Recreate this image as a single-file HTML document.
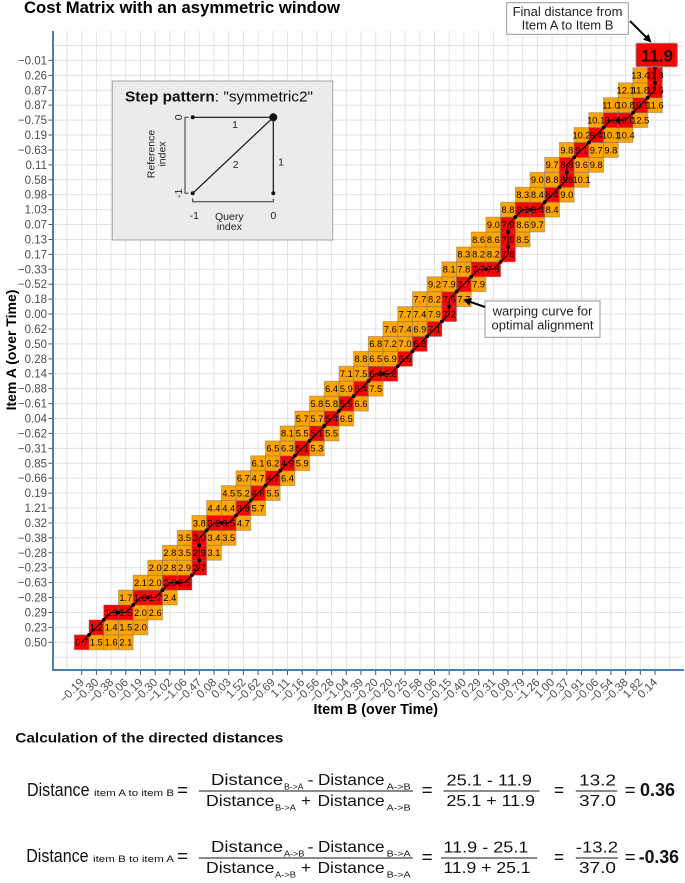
<!DOCTYPE html>
<html><head><meta charset="utf-8">
<style>
html,body{margin:0;padding:0;background:#fff}
svg{display:block}
text{font-family:"Liberation Sans",Arial,sans-serif}
.yl text{font-size:11.5px;fill:#4d4d4d;text-anchor:end}
.xl text{font-size:11.5px;fill:#4d4d4d;text-anchor:end}
.c text{font-size:9.3px;fill:#000;text-anchor:middle}
</style></head>
<body>
<svg width="685" height="883" viewBox="0 0 685 883" xmlns="http://www.w3.org/2000/svg">
<defs>
<pattern id="grid" x="59.65" y="649.76" width="14.7" height="14.92" patternUnits="userSpaceOnUse">
<path d="M7.35 0V14.92M0 7.46H14.7" stroke="#e2e2e2" stroke-width="1" fill="none"/>
</pattern>
<rect id="O" x="-7.35" y="-7.46" width="14.7" height="14.92" fill="#FFA500" stroke="rgba(110,110,110,0.45)" stroke-width="1"/>
<rect id="R" x="-7.35" y="-7.46" width="14.7" height="14.92" fill="#FF0000" stroke="rgba(110,110,110,0.45)" stroke-width="1"/>
</defs>
<rect width="685" height="883" fill="#fff"/>
<text x="24" y="13" font-size="16.5" font-weight="bold" textLength="316" lengthAdjust="spacingAndGlyphs">Cost Matrix with an asymmetric window</text>

<rect x="53" y="31" width="630" height="639" fill="url(#grid)"/>

<path stroke="#555" stroke-width="1" d="M48.5 60.42H53M48.5 75.34H53M48.5 90.26H53M48.5 105.18H53M48.5 120.1H53M48.5 135.02H53M48.5 149.94H53M48.5 164.86H53M48.5 179.78H53M48.5 194.7H53M48.5 209.62H53M48.5 224.54H53M48.5 239.46H53M48.5 254.38H53M48.5 269.3H53M48.5 284.22H53M48.5 299.14H53M48.5 314.06H53M48.5 328.98H53M48.5 343.9H53M48.5 358.82H53M48.5 373.74H53M48.5 388.66H53M48.5 403.58H53M48.5 418.5H53M48.5 433.42H53M48.5 448.34H53M48.5 463.26H53M48.5 478.18H53M48.5 493.1H53M48.5 508.02H53M48.5 522.94H53M48.5 537.86H53M48.5 552.78H53M48.5 567.7H53M48.5 582.62H53M48.5 597.54H53M48.5 612.46H53M48.5 627.38H53M48.5 642.3H53"/>
<path stroke="#555" stroke-width="1" d="M81.7 670V675M96.4 670V675M111.1 670V675M125.8 670V675M140.5 670V675M155.2 670V675M169.9 670V675M184.6 670V675M199.3 670V675M214 670V675M228.7 670V675M243.4 670V675M258.1 670V675M272.8 670V675M287.5 670V675M302.2 670V675M316.9 670V675M331.6 670V675M346.3 670V675M361 670V675M375.7 670V675M390.4 670V675M405.1 670V675M419.8 670V675M434.5 670V675M449.2 670V675M463.9 670V675M478.6 670V675M493.3 670V675M508 670V675M522.7 670V675M537.4 670V675M552.1 670V675M566.8 670V675M581.5 670V675M596.2 670V675M610.9 670V675M625.6 670V675M640.3 670V675M655 670V675"/>

<line x1="53" y1="31" x2="53" y2="671" stroke="#4a7fb0" stroke-width="2"/>
<line x1="52" y1="670" x2="684" y2="670" stroke="#4a7fb0" stroke-width="2"/>

<g class="yl">
<text x="47" y="64.4">−0.01</text><text x="47" y="79.34">0.26</text><text x="47" y="94.26">0.87</text><text x="47" y="109.18">0.87</text><text x="47" y="124.1">−0.75</text><text x="47" y="139.02">0.19</text><text x="47" y="153.94">−0.63</text><text x="47" y="168.86">0.11</text><text x="47" y="183.78">0.58</text><text x="47" y="198.7">0.98</text><text x="47" y="213.62">1.03</text><text x="47" y="228.54">0.07</text><text x="47" y="243.46">0.13</text><text x="47" y="258.38">0.17</text><text x="47" y="273.3">−0.33</text><text x="47" y="288.22">−0.52</text><text x="47" y="303.14">0.18</text><text x="47" y="318.06">0.00</text><text x="47" y="332.98">0.62</text><text x="47" y="347.9">0.50</text><text x="47" y="362.82">0.28</text><text x="47" y="377.74">0.14</text><text x="47" y="392.66">−0.88</text><text x="47" y="407.58">−0.61</text><text x="47" y="422.5">0.04</text><text x="47" y="437.42">−0.62</text><text x="47" y="452.34">−0.31</text><text x="47" y="467.26">0.85</text><text x="47" y="482.18">−0.66</text><text x="47" y="497.1">0.19</text><text x="47" y="512.02">1.21</text><text x="47" y="526.94">0.32</text><text x="47" y="541.86">−0.38</text><text x="47" y="556.78">−0.28</text><text x="47" y="571.7">−0.23</text><text x="47" y="586.62">−0.63</text><text x="47" y="601.54">−0.28</text><text x="47" y="616.46">0.29</text><text x="47" y="631.38">0.23</text><text x="47" y="646.3">0.50</text>
</g>

<g class="xl">
<text transform="translate(84.7,683) rotate(-45)">−0.19</text>
<text transform="translate(99.4,683) rotate(-45)">−0.30</text>
<text transform="translate(114.1,683) rotate(-45)">−0.38</text>
<text transform="translate(128.8,683) rotate(-45)">0.06</text>
<text transform="translate(143.5,683) rotate(-45)">−0.19</text>
<text transform="translate(158.2,683) rotate(-45)">−0.30</text>
<text transform="translate(172.9,683) rotate(-45)">−1.02</text>
<text transform="translate(187.6,683) rotate(-45)">−1.06</text>
<text transform="translate(202.3,683) rotate(-45)">−0.47</text>
<text transform="translate(217,683) rotate(-45)">0.08</text>
<text transform="translate(231.7,683) rotate(-45)">0.03</text>
<text transform="translate(246.4,683) rotate(-45)">1.52</text>
<text transform="translate(261.1,683) rotate(-45)">−0.62</text>
<text transform="translate(275.8,683) rotate(-45)">−0.69</text>
<text transform="translate(290.5,683) rotate(-45)">1.11</text>
<text transform="translate(305.2,683) rotate(-45)">−0.16</text>
<text transform="translate(319.9,683) rotate(-45)">−0.56</text>
<text transform="translate(334.6,683) rotate(-45)">−0.28</text>
<text transform="translate(349.3,683) rotate(-45)">−1.04</text>
<text transform="translate(364,683) rotate(-45)">−0.39</text>
<text transform="translate(378.7,683) rotate(-45)">−0.20</text>
<text transform="translate(393.4,683) rotate(-45)">−0.20</text>
<text transform="translate(408.1,683) rotate(-45)">0.25</text>
<text transform="translate(422.8,683) rotate(-45)">0.58</text>
<text transform="translate(437.5,683) rotate(-45)">0.06</text>
<text transform="translate(452.2,683) rotate(-45)">−0.15</text>
<text transform="translate(466.9,683) rotate(-45)">−0.40</text>
<text transform="translate(481.6,683) rotate(-45)">0.29</text>
<text transform="translate(496.3,683) rotate(-45)">−0.31</text>
<text transform="translate(511,683) rotate(-45)">0.09</text>
<text transform="translate(525.7,683) rotate(-45)">−0.79</text>
<text transform="translate(540.4,683) rotate(-45)">−1.26</text>
<text transform="translate(555.1,683) rotate(-45)">1.00</text>
<text transform="translate(569.8,683) rotate(-45)">−0.37</text>
<text transform="translate(584.5,683) rotate(-45)">−0.91</text>
<text transform="translate(599.2,683) rotate(-45)">−0.06</text>
<text transform="translate(613.9,683) rotate(-45)">−0.54</text>
<text transform="translate(628.6,683) rotate(-45)">−0.38</text>
<text transform="translate(643.3,683) rotate(-45)">1.82</text>
<text transform="translate(658,683) rotate(-45)">0.14</text>
</g>

<text transform="translate(16,350) rotate(-90)" text-anchor="middle" font-size="14" font-weight="bold">Item A (over Time)</text>
<text x="375.8" y="714" text-anchor="middle" font-size="14.3" font-weight="bold">Item B (over Time)</text>

<g class="c">
<g transform="translate(0,642.3)"><use href="#R" x="81.7"/><text x="81.7" y="3.3">0.7</text><use href="#O" x="96.4"/><text x="96.4" y="3.3">1.5</text><use href="#O" x="111.1"/><text x="111.1" y="3.3">1.6</text><use href="#O" x="125.8"/><text x="125.8" y="3.3">2.1</text></g>
<g transform="translate(0,627.38)"><use href="#R" x="96.4"/><text x="96.4" y="3.3">1.2</text><use href="#O" x="111.1"/><text x="111.1" y="3.3">1.4</text><use href="#O" x="125.8"/><text x="125.8" y="3.3">1.5</text><use href="#O" x="140.5"/><text x="140.5" y="3.3">2.0</text></g>
<g transform="translate(0,612.46)"><use href="#R" x="111.1"/><text x="111.1" y="3.3">1.3</text><use href="#R" x="125.8"/><text x="125.8" y="3.3">1.5</text><use href="#O" x="140.5"/><text x="140.5" y="3.3">2.0</text><use href="#O" x="155.2"/><text x="155.2" y="3.3">2.6</text></g>
<g transform="translate(0,597.54)"><use href="#O" x="125.8"/><text x="125.8" y="3.3">1.7</text><use href="#R" x="140.5"/><text x="140.5" y="3.3">1.6</text><use href="#R" x="155.2"/><text x="155.2" y="3.3">1.7</text><use href="#O" x="169.9"/><text x="169.9" y="3.3">2.4</text></g>
<g transform="translate(0,582.62)"><use href="#O" x="140.5"/><text x="140.5" y="3.3">2.1</text><use href="#O" x="155.2"/><text x="155.2" y="3.3">2.0</text><use href="#R" x="169.9"/><text x="169.9" y="3.3">2.0</text><use href="#R" x="184.6"/><text x="184.6" y="3.3">2.5</text></g>
<g transform="translate(0,567.7)"><use href="#O" x="155.2"/><text x="155.2" y="3.3">2.0</text><use href="#O" x="169.9"/><text x="169.9" y="3.3">2.8</text><use href="#O" x="184.6"/><text x="184.6" y="3.3">2.9</text><use href="#R" x="199.3"/><text x="199.3" y="3.3">2.7</text></g>
<g transform="translate(0,552.78)"><use href="#O" x="169.9"/><text x="169.9" y="3.3">2.8</text><use href="#O" x="184.6"/><text x="184.6" y="3.3">3.5</text><use href="#R" x="199.3"/><text x="199.3" y="3.3">2.9</text><use href="#O" x="214"/><text x="214" y="3.3">3.1</text></g>
<g transform="translate(0,537.86)"><use href="#O" x="184.6"/><text x="184.6" y="3.3">3.5</text><use href="#R" x="199.3"/><text x="199.3" y="3.3">3.0</text><use href="#O" x="214"/><text x="214" y="3.3">3.4</text><use href="#O" x="228.7"/><text x="228.7" y="3.3">3.5</text></g>
<g transform="translate(0,522.94)"><use href="#O" x="199.3"/><text x="199.3" y="3.3">3.8</text><use href="#R" x="214"/><text x="214" y="3.3">3.2</text><use href="#R" x="228.7"/><text x="228.7" y="3.3">3.5</text><use href="#O" x="243.4"/><text x="243.4" y="3.3">4.7</text></g>
<g transform="translate(0,508.02)"><use href="#O" x="214"/><text x="214" y="3.3">4.4</text><use href="#O" x="228.7"/><text x="228.7" y="3.3">4.4</text><use href="#R" x="243.4"/><text x="243.4" y="3.3">3.8</text><use href="#O" x="258.1"/><text x="258.1" y="3.3">5.7</text></g>
<g transform="translate(0,493.1)"><use href="#O" x="228.7"/><text x="228.7" y="3.3">4.5</text><use href="#O" x="243.4"/><text x="243.4" y="3.3">5.2</text><use href="#R" x="258.1"/><text x="258.1" y="3.3">4.6</text><use href="#O" x="272.8"/><text x="272.8" y="3.3">5.5</text></g>
<g transform="translate(0,478.18)"><use href="#O" x="243.4"/><text x="243.4" y="3.3">6.7</text><use href="#O" x="258.1"/><text x="258.1" y="3.3">4.7</text><use href="#R" x="272.8"/><text x="272.8" y="3.3">4.7</text><use href="#O" x="287.5"/><text x="287.5" y="3.3">6.4</text></g>
<g transform="translate(0,463.26)"><use href="#O" x="258.1"/><text x="258.1" y="3.3">6.1</text><use href="#O" x="272.8"/><text x="272.8" y="3.3">6.2</text><use href="#R" x="287.5"/><text x="287.5" y="3.3">4.9</text><use href="#O" x="302.2"/><text x="302.2" y="3.3">5.9</text></g>
<g transform="translate(0,448.34)"><use href="#O" x="272.8"/><text x="272.8" y="3.3">6.5</text><use href="#O" x="287.5"/><text x="287.5" y="3.3">6.3</text><use href="#R" x="302.2"/><text x="302.2" y="3.3">5.1</text><use href="#O" x="316.9"/><text x="316.9" y="3.3">5.3</text></g>
<g transform="translate(0,433.42)"><use href="#O" x="287.5"/><text x="287.5" y="3.3">8.1</text><use href="#O" x="302.2"/><text x="302.2" y="3.3">5.5</text><use href="#R" x="316.9"/><text x="316.9" y="3.3">5.1</text><use href="#O" x="331.6"/><text x="331.6" y="3.3">5.5</text></g>
<g transform="translate(0,418.5)"><use href="#O" x="302.2"/><text x="302.2" y="3.3">5.7</text><use href="#O" x="316.9"/><text x="316.9" y="3.3">5.7</text><use href="#R" x="331.6"/><text x="331.6" y="3.3">5.4</text><use href="#O" x="346.3"/><text x="346.3" y="3.3">6.5</text></g>
<g transform="translate(0,403.58)"><use href="#O" x="316.9"/><text x="316.9" y="3.3">5.8</text><use href="#O" x="331.6"/><text x="331.6" y="3.3">5.8</text><use href="#R" x="346.3"/><text x="346.3" y="3.3">5.9</text><use href="#O" x="361"/><text x="361" y="3.3">6.6</text></g>
<g transform="translate(0,388.66)"><use href="#O" x="331.6"/><text x="331.6" y="3.3">6.4</text><use href="#O" x="346.3"/><text x="346.3" y="3.3">5.9</text><use href="#R" x="361"/><text x="361" y="3.3">6.4</text><use href="#O" x="375.7"/><text x="375.7" y="3.3">7.5</text></g>
<g transform="translate(0,373.74)"><use href="#O" x="346.3"/><text x="346.3" y="3.3">7.1</text><use href="#O" x="361"/><text x="361" y="3.3">7.5</text><use href="#R" x="375.7"/><text x="375.7" y="3.3">6.4</text><use href="#R" x="390.4"/><text x="390.4" y="3.3">6.8</text></g>
<g transform="translate(0,358.82)"><use href="#O" x="361"/><text x="361" y="3.3">8.8</text><use href="#O" x="375.7"/><text x="375.7" y="3.3">6.5</text><use href="#O" x="390.4"/><text x="390.4" y="3.3">6.9</text><use href="#R" x="405.1"/><text x="405.1" y="3.3">6.6</text></g>
<g transform="translate(0,343.9)"><use href="#O" x="375.7"/><text x="375.7" y="3.3">6.8</text><use href="#O" x="390.4"/><text x="390.4" y="3.3">7.2</text><use href="#O" x="405.1"/><text x="405.1" y="3.3">7.0</text><use href="#R" x="419.8"/><text x="419.8" y="3.3">6.8</text></g>
<g transform="translate(0,328.98)"><use href="#O" x="390.4"/><text x="390.4" y="3.3">7.6</text><use href="#O" x="405.1"/><text x="405.1" y="3.3">7.4</text><use href="#O" x="419.8"/><text x="419.8" y="3.3">6.9</text><use href="#R" x="434.5"/><text x="434.5" y="3.3">7.1</text></g>
<g transform="translate(0,314.06)"><use href="#O" x="405.1"/><text x="405.1" y="3.3">7.7</text><use href="#O" x="419.8"/><text x="419.8" y="3.3">7.4</text><use href="#O" x="434.5"/><text x="434.5" y="3.3">7.9</text><use href="#R" x="449.2"/><text x="449.2" y="3.3">7.2</text></g>
<g transform="translate(0,299.14)"><use href="#O" x="419.8"/><text x="419.8" y="3.3">7.7</text><use href="#O" x="434.5"/><text x="434.5" y="3.3">8.2</text><use href="#R" x="449.2"/><text x="449.2" y="3.3">7.6</text><use href="#O" x="463.9"/><text x="463.9" y="3.3">7.7</text></g>
<g transform="translate(0,284.22)"><use href="#O" x="434.5"/><text x="434.5" y="3.3">9.2</text><use href="#O" x="449.2"/><text x="449.2" y="3.3">7.9</text><use href="#R" x="463.9"/><text x="463.9" y="3.3">7.7</text><use href="#O" x="478.6"/><text x="478.6" y="3.3">7.9</text></g>
<g transform="translate(0,269.3)"><use href="#O" x="449.2"/><text x="449.2" y="3.3">8.1</text><use href="#O" x="463.9"/><text x="463.9" y="3.3">7.8</text><use href="#R" x="478.6"/><text x="478.6" y="3.3">7.7</text><use href="#R" x="493.3"/><text x="493.3" y="3.3">7.8</text></g>
<g transform="translate(0,254.38)"><use href="#O" x="463.9"/><text x="463.9" y="3.3">8.3</text><use href="#O" x="478.6"/><text x="478.6" y="3.3">8.2</text><use href="#O" x="493.3"/><text x="493.3" y="3.3">8.2</text><use href="#R" x="508"/><text x="508" y="3.3">7.8</text></g>
<g transform="translate(0,239.46)"><use href="#O" x="478.6"/><text x="478.6" y="3.3">8.6</text><use href="#O" x="493.3"/><text x="493.3" y="3.3">8.6</text><use href="#R" x="508"/><text x="508" y="3.3">7.9</text><use href="#O" x="522.7"/><text x="522.7" y="3.3">8.5</text></g>
<g transform="translate(0,224.54)"><use href="#O" x="493.3"/><text x="493.3" y="3.3">9.0</text><use href="#R" x="508"/><text x="508" y="3.3">7.9</text><use href="#O" x="522.7"/><text x="522.7" y="3.3">8.6</text><use href="#O" x="537.4"/><text x="537.4" y="3.3">9.7</text></g>
<g transform="translate(0,209.62)"><use href="#O" x="508"/><text x="508" y="3.3">8.8</text><use href="#R" x="522.7"/><text x="522.7" y="3.3">8.1</text><use href="#R" x="537.4"/><text x="537.4" y="3.3">8.4</text><use href="#O" x="552.1"/><text x="552.1" y="3.3">8.4</text></g>
<g transform="translate(0,194.7)"><use href="#O" x="522.7"/><text x="522.7" y="3.3">8.3</text><use href="#O" x="537.4"/><text x="537.4" y="3.3">8.4</text><use href="#R" x="552.1"/><text x="552.1" y="3.3">8.4</text><use href="#O" x="566.8"/><text x="566.8" y="3.3">9.0</text></g>
<g transform="translate(0,179.78)"><use href="#O" x="537.4"/><text x="537.4" y="3.3">9.0</text><use href="#O" x="552.1"/><text x="552.1" y="3.3">8.8</text><use href="#R" x="566.8"/><text x="566.8" y="3.3">8.6</text><use href="#O" x="581.5"/><text x="581.5" y="3.3">10.1</text></g>
<g transform="translate(0,164.86)"><use href="#O" x="552.1"/><text x="552.1" y="3.3">9.7</text><use href="#R" x="566.8"/><text x="566.8" y="3.3">8.8</text><use href="#O" x="581.5"/><text x="581.5" y="3.3">9.6</text><use href="#O" x="596.2"/><text x="596.2" y="3.3">9.8</text></g>
<g transform="translate(0,149.94)"><use href="#O" x="566.8"/><text x="566.8" y="3.3">9.8</text><use href="#R" x="581.5"/><text x="581.5" y="3.3">9.1</text><use href="#O" x="596.2"/><text x="596.2" y="3.3">9.7</text><use href="#O" x="610.9"/><text x="610.9" y="3.3">9.8</text></g>
<g transform="translate(0,135.02)"><use href="#O" x="581.5"/><text x="581.5" y="3.3">10.2</text><use href="#R" x="596.2"/><text x="596.2" y="3.3">9.4</text><use href="#O" x="610.9"/><text x="610.9" y="3.3">10.1</text><use href="#O" x="625.6"/><text x="625.6" y="3.3">10.4</text></g>
<g transform="translate(0,120.1)"><use href="#O" x="596.2"/><text x="596.2" y="3.3">10.1</text><use href="#R" x="610.9"/><text x="610.9" y="3.3">9.6</text><use href="#R" x="625.6"/><text x="625.6" y="3.3">10.0</text><use href="#O" x="640.3"/><text x="640.3" y="3.3">12.5</text></g>
<g transform="translate(0,105.18)"><use href="#O" x="610.9"/><text x="610.9" y="3.3">11.0</text><use href="#O" x="625.6"/><text x="625.6" y="3.3">10.8</text><use href="#R" x="640.3"/><text x="640.3" y="3.3">10.9</text><use href="#O" x="655"/><text x="655" y="3.3">11.6</text></g>
<g transform="translate(0,90.26)"><use href="#O" x="625.6"/><text x="625.6" y="3.3">12.1</text><use href="#O" x="640.3"/><text x="640.3" y="3.3">11.8</text><use href="#R" x="655"/><text x="655" y="3.3">11.6</text></g>
<g transform="translate(0,75.34)"><use href="#O" x="640.3"/><text x="640.3" y="3.3">13.4</text><use href="#R" x="655"/><text x="655" y="3.3">11.8</text></g>
<g transform="translate(0,60.42)"><use href="#R" x="655"/></g>
</g>

<polyline fill="none" stroke="#000" stroke-width="1.2" points="81.7,642.3 96.4,627.38 111.1,612.46 125.8,612.46 140.5,597.54 155.2,597.54 169.9,582.62 184.6,582.62 199.3,567.7 199.3,552.78 199.3,537.86 214,522.94 228.7,522.94 243.4,508.02 258.1,493.1 272.8,478.18 287.5,463.26 302.2,448.34 316.9,433.42 331.6,418.5 346.3,403.58 361,388.66 375.7,373.74 390.4,373.74 405.1,358.82 419.8,343.9 434.5,328.98 449.2,314.06 449.2,299.14 463.9,284.22 478.6,269.3 493.3,269.3 508,254.38 508,239.46 508,224.54 522.7,209.62 537.4,209.62 552.1,194.7 566.8,179.78 566.8,164.86 581.5,149.94 596.2,135.02 610.9,120.1 625.6,120.1 640.3,105.18 655,90.26 655,75.34 655,60.42"/>
<g fill="#000">
<circle cx="89.05" cy="634.84" r="1.9"/><circle cx="103.75" cy="619.92" r="1.9"/><circle cx="118.45" cy="612.46" r="1.9"/><circle cx="133.15" cy="605" r="1.9"/><circle cx="147.85" cy="597.54" r="1.9"/><circle cx="162.55" cy="590.08" r="1.9"/><circle cx="177.25" cy="582.62" r="1.9"/><circle cx="191.95" cy="575.16" r="1.9"/><circle cx="199.3" cy="560.24" r="1.9"/><circle cx="199.3" cy="545.32" r="1.9"/><circle cx="206.65" cy="530.4" r="1.9"/><circle cx="221.35" cy="522.94" r="1.9"/><circle cx="236.05" cy="515.48" r="1.9"/><circle cx="250.75" cy="500.56" r="1.9"/><circle cx="265.45" cy="485.64" r="1.9"/><circle cx="280.15" cy="470.72" r="1.9"/><circle cx="294.85" cy="455.8" r="1.9"/><circle cx="309.55" cy="440.88" r="1.9"/><circle cx="324.25" cy="425.96" r="1.9"/><circle cx="338.95" cy="411.04" r="1.9"/><circle cx="353.65" cy="396.12" r="1.9"/><circle cx="368.35" cy="381.2" r="1.9"/><circle cx="383.05" cy="373.74" r="1.9"/><circle cx="397.75" cy="366.28" r="1.9"/><circle cx="412.45" cy="351.36" r="1.9"/><circle cx="427.15" cy="336.44" r="1.9"/><circle cx="441.85" cy="321.52" r="1.9"/><circle cx="449.2" cy="306.6" r="1.9"/><circle cx="456.55" cy="291.68" r="1.9"/><circle cx="471.25" cy="276.76" r="1.9"/><circle cx="485.95" cy="269.3" r="1.9"/><circle cx="500.65" cy="261.84" r="1.9"/><circle cx="508" cy="246.92" r="1.9"/><circle cx="508" cy="232" r="1.9"/><circle cx="515.35" cy="217.08" r="1.9"/><circle cx="530.05" cy="209.62" r="1.9"/><circle cx="544.75" cy="202.16" r="1.9"/><circle cx="559.45" cy="187.24" r="1.9"/><circle cx="566.8" cy="172.32" r="1.9"/><circle cx="574.15" cy="157.4" r="1.9"/><circle cx="588.85" cy="142.48" r="1.9"/><circle cx="603.55" cy="127.56" r="1.9"/><circle cx="618.25" cy="120.1" r="1.9"/><circle cx="632.95" cy="112.64" r="1.9"/><circle cx="647.65" cy="97.72" r="1.9"/><circle cx="655" cy="82.8" r="1.9"/><circle cx="655" cy="67.88" r="1.9"/>
</g>

<rect x="636" y="43.3" width="41.3" height="23.4" rx="1.5" fill="#FF0000" stroke="#8a8a8a" stroke-width="1"/>
<text x="641" y="61.5" font-size="17" font-weight="bold" fill="#111" textLength="32" lengthAdjust="spacingAndGlyphs">11.9</text>

<rect x="506.7" y="2.7" width="121.6" height="31.6" fill="#fff" stroke="#9a9a9a" stroke-width="1"/>
<text x="567.5" y="16.2" text-anchor="middle" font-size="13" fill="#222">Final distance from</text>
<text x="567.5" y="29.6" text-anchor="middle" font-size="13" fill="#222">Item A to Item B</text>
<line x1="630" y1="21" x2="646.5" y2="37.5" stroke="#000" stroke-width="2"/>
<polygon points="651.5,42.5 643,39.6 648.6,34" fill="#000"/>

<rect x="485" y="301" width="115" height="36.3" fill="#fff" stroke="#9a9a9a" stroke-width="1"/>
<text x="542.5" y="315.5" text-anchor="middle" font-size="13" fill="#222">warping curve for</text>
<text x="542.5" y="329.3" text-anchor="middle" font-size="13" fill="#222">optimal alignment</text>
<line x1="485" y1="307" x2="469" y2="301.4" stroke="#000" stroke-width="2"/>
<polygon points="463,299.3 471.9,298.2 469.3,305.7" fill="#000"/>

<rect x="112.3" y="81" width="220.4" height="159" fill="#ebebeb" stroke="#a6a6a6" stroke-width="1"/>
<text x="125" y="101.5" font-size="15" fill="#111" textLength="188" lengthAdjust="spacingAndGlyphs"><tspan font-weight="bold">Step pattern</tspan>: "symmetric2"</text>
<g stroke="#111" stroke-width="1.2">
<line x1="192.7" y1="117.3" x2="273.3" y2="117.3"/>
<line x1="192.7" y1="193.3" x2="273.3" y2="117.3"/>
<line x1="273.3" y1="193.3" x2="273.3" y2="117.3"/>
</g>
<g fill="#111">
<circle cx="192.7" cy="117.3" r="2"/><circle cx="192.7" cy="193.3" r="2"/><circle cx="273.3" cy="193.3" r="2"/><circle cx="273.3" cy="117.3" r="4"/>
</g>
<g font-size="10.5" fill="#222" text-anchor="middle">
<text x="235" y="128">1</text>
<text x="235.7" y="168">2</text>
<text x="281" y="165.5">1</text>
<text transform="translate(182,117.3) rotate(-90)">0</text>
<text transform="translate(182,193.3) rotate(-90)">-1</text>
<text transform="translate(154.5,154) rotate(-90)">Reference</text>
<text transform="translate(165.5,154) rotate(-90)">index</text>
<text x="194.3" y="219">-1</text>
<text x="273.3" y="219">0</text>
<text x="229.3" y="219.8">Query</text>
<text x="229.3" y="229.8">index</text>
</g>
<path d="M188.5 117.3H185V193.3H188.5M192.7 198.5V201.7H273.3V198.5" fill="none" stroke="#333" stroke-width="1"/>

<text x="15.3" y="742.5" font-size="14" font-weight="bold" fill="#111" textLength="268" lengthAdjust="spacingAndGlyphs">Calculation of the directed distances</text>

<g fill="#111" font-size="16">
<text x="27" y="796" font-size="18" textLength="62.5" lengthAdjust="spacingAndGlyphs">Distance</text>
<text x="94" y="796" font-size="9" textLength="80" lengthAdjust="spacingAndGlyphs">item A to item B</text>
<text x="177" y="796" font-size="18" textLength="11" lengthAdjust="spacingAndGlyphs">=</text>
<text x="211" y="785" textLength="72" lengthAdjust="spacingAndGlyphs">Distance</text>
<text x="284" y="789.5" font-size="8.5" textLength="19.6" lengthAdjust="spacingAndGlyphs">B-&gt;A</text>
<text x="307.5" y="785" textLength="6" lengthAdjust="spacingAndGlyphs">-</text>
<text x="318" y="785" textLength="66.5" lengthAdjust="spacingAndGlyphs">Distance</text>
<text x="386.6" y="789.5" font-size="8.5" textLength="24" lengthAdjust="spacingAndGlyphs">A-&gt;B</text>
<line x1="198.8" y1="791" x2="412.8" y2="791" stroke="#444" stroke-width="1.3"/>
<text x="206" y="806" textLength="68.4" lengthAdjust="spacingAndGlyphs">Distance</text>
<text x="275" y="810.7" font-size="8.5" textLength="21" lengthAdjust="spacingAndGlyphs">B-&gt;A</text>
<text x="301" y="806" textLength="10" lengthAdjust="spacingAndGlyphs">+</text>
<text x="317.6" y="806" textLength="67" lengthAdjust="spacingAndGlyphs">Distance</text>
<text x="386.6" y="810.7" font-size="8.5" textLength="24" lengthAdjust="spacingAndGlyphs">A-&gt;B</text>
<text x="421.6" y="796" font-size="18" textLength="11" lengthAdjust="spacingAndGlyphs">=</text>
<text x="446.5" y="785.7" textLength="85.5" lengthAdjust="spacingAndGlyphs">25.1 - 11.9</text>
<text x="446.5" y="806" textLength="88.5" lengthAdjust="spacingAndGlyphs">25.1 + 11.9</text>
<line x1="443.4" y1="791" x2="539.5" y2="791" stroke="#444" stroke-width="1.3"/>
<text x="554" y="796" font-size="18" textLength="10" lengthAdjust="spacingAndGlyphs">=</text>
<text x="579" y="785.7" textLength="37" lengthAdjust="spacingAndGlyphs">13.2</text>
<text x="579" y="806" textLength="37" lengthAdjust="spacingAndGlyphs">37.0</text>
<line x1="575.8" y1="791" x2="617.3" y2="791" stroke="#444" stroke-width="1.3"/>
<text x="624.7" y="796" font-size="18" textLength="11" lengthAdjust="spacingAndGlyphs">=</text>
<text x="640" y="796" font-size="18" font-weight="bold" textLength="35" lengthAdjust="spacingAndGlyphs">0.36</text>

<text x="26.2" y="862" font-size="18" textLength="62.4" lengthAdjust="spacingAndGlyphs">Distance</text>
<text x="93" y="862" font-size="9" textLength="81" lengthAdjust="spacingAndGlyphs">item B to item A</text>
<text x="177" y="862" font-size="18" textLength="11" lengthAdjust="spacingAndGlyphs">=</text>
<text x="211" y="852" textLength="72" lengthAdjust="spacingAndGlyphs">Distance</text>
<text x="284" y="856.5" font-size="8.5" textLength="20.4" lengthAdjust="spacingAndGlyphs">A-&gt;B</text>
<text x="307.5" y="852" textLength="6" lengthAdjust="spacingAndGlyphs">-</text>
<text x="318" y="852" textLength="66.5" lengthAdjust="spacingAndGlyphs">Distance</text>
<text x="386.6" y="856.5" font-size="8.5" textLength="24" lengthAdjust="spacingAndGlyphs">B-&gt;A</text>
<line x1="198.8" y1="858" x2="412.8" y2="858" stroke="#444" stroke-width="1.3"/>
<text x="206" y="873" textLength="68.4" lengthAdjust="spacingAndGlyphs">Distance</text>
<text x="275" y="877.7" font-size="8.5" textLength="21" lengthAdjust="spacingAndGlyphs">A-&gt;B</text>
<text x="301" y="873" textLength="10" lengthAdjust="spacingAndGlyphs">+</text>
<text x="317.6" y="873" textLength="67" lengthAdjust="spacingAndGlyphs">Distance</text>
<text x="386.6" y="877.7" font-size="8.5" textLength="24" lengthAdjust="spacingAndGlyphs">B-&gt;A</text>
<text x="421.6" y="863" font-size="18" textLength="11" lengthAdjust="spacingAndGlyphs">=</text>
<text x="443.4" y="852.7" textLength="85" lengthAdjust="spacingAndGlyphs">11.9 - 25.1</text>
<text x="443.4" y="873" textLength="87.2" lengthAdjust="spacingAndGlyphs">11.9 + 25.1</text>
<line x1="441" y1="858" x2="537" y2="858" stroke="#444" stroke-width="1.3"/>
<text x="554" y="863" font-size="18" textLength="10" lengthAdjust="spacingAndGlyphs">=</text>
<text x="575.8" y="852.7" textLength="42.2" lengthAdjust="spacingAndGlyphs">-13.2</text>
<text x="579" y="873" textLength="37" lengthAdjust="spacingAndGlyphs">37.0</text>
<line x1="575.8" y1="858" x2="618" y2="858" stroke="#444" stroke-width="1.3"/>
<text x="624.7" y="863" font-size="18" textLength="11" lengthAdjust="spacingAndGlyphs">=</text>
<text x="638.7" y="863" font-size="18" font-weight="bold" textLength="40.3" lengthAdjust="spacingAndGlyphs">-0.36</text>
</g>
</svg>
</body></html>
